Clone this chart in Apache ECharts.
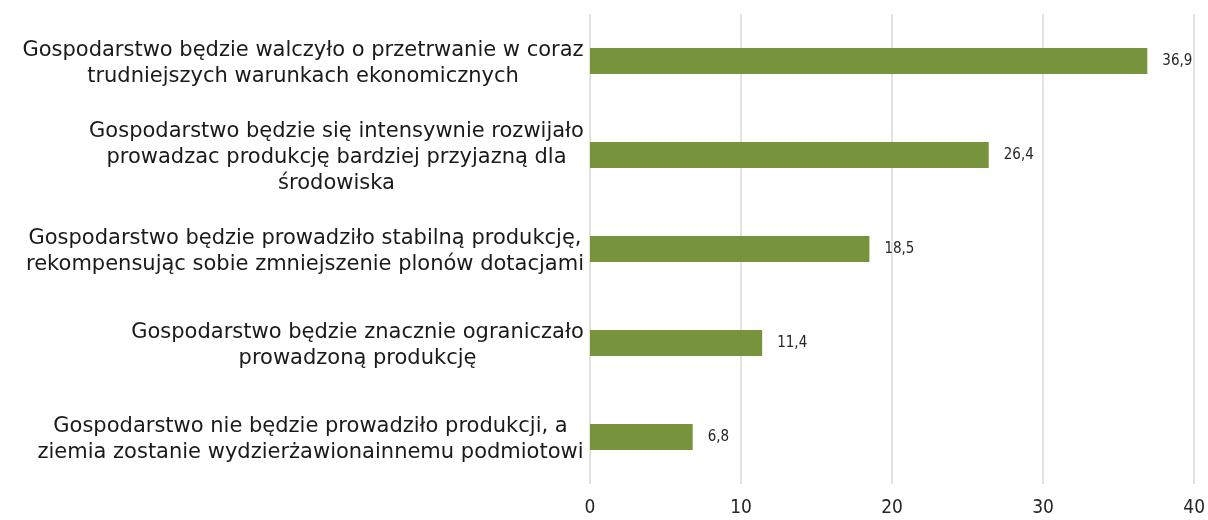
<!DOCTYPE html>
<html>
<head>
<meta charset="utf-8">
<script src="https://cdn.jsdelivr.net/npm/echarts@6/dist/echarts.min.js"></script>
<style>
  html, body { margin: 0; padding: 0; background: #ffffff; }
  #chart { width: 1208px; height: 520px; }
</style>
</head>
<body>
<div id="chart"></div>
<script>
// Answer categories (line breaks as they wrap in the label column)
const categories = [
  'Gospodarstwo będzie walczyło o przetrwanie w coraz\ntrudniejszych warunkach ekonomicznych',
  'Gospodarstwo będzie się intensywnie rozwijało\nprowadzac produkcję bardziej przyjazną dla\nśrodowiska',
  'Gospodarstwo będzie prowadziło stabilną produkcję,\nrekompensując sobie zmniejszenie plonów dotacjami',
  'Gospodarstwo będzie znacznie ograniczało\nprowadzoną produkcję',
  'Gospodarstwo nie będzie prowadziło produkcji, a\nziemia zostanie wydzierżawionainnemu podmiotowi'
];
// Share of answers, %
const values = [36.9, 26.4, 18.5, 11.4, 6.8];
// Value axis ticks
const tickLabels = ['0', '10', '20', '30', '40'];

const FONT = '"DejaVu Sans", sans-serif';
const NUM_FONT = '"DejaVu Sans Condensed", "DejaVu Sans", sans-serif';
const CAT_SIZE = 21;

// Measure every label block so its lines can be centred inside it
const ctx = document.createElement('canvas').getContext('2d');
ctx.font = CAT_SIZE + 'px ' + FONT;
const rich = {};
categories.forEach((c, i) => {
  const w = Math.max(...c.split('\n').map(l => ctx.measureText(l).width));
  rich['c' + i] = {
    width: Math.ceil(w), align: 'center',
    fontFamily: FONT, fontSize: CAT_SIZE, lineHeight: 26, color: '#1a1a1a'
  };
});

const chart = echarts.init(document.getElementById('chart'), null, { renderer: 'canvas' });
chart.setOption({
  animation: false,
  grid: { left: 590, right: 12, top: 14, bottom: 36, containLabel: false },
  xAxis: {
    type: 'value',
    min: 0, max: 40, interval: 10,
    axisLine: { show: false },
    axisTick: { show: false },
    splitLine: { show: true, lineStyle: { color: '#d9d9d9', width: 1.5 } },
    axisLabel: {
      margin: 15,
      fontFamily: NUM_FONT, fontSize: 19, color: '#262626',
      formatter: (v) => tickLabels[Math.round(v / 10)]
    }
  },
  yAxis: {
    type: 'category',
    inverse: true,
    data: categories,
    axisLine: { show: false },
    axisTick: { show: false },
    axisLabel: {
      margin: 6,
      align: 'right',
      padding: [6, 0, 0, 0],
      rich: rich,
      formatter: (v, idx) => v.split('\n').map(l => '{c' + idx + '|' + l + '}').join('\n')
    }
  },
  series: [{
    type: 'bar',
    data: values,
    barWidth: 26,
    itemStyle: { color: '#77933C' },
    label: {
      show: true,
      position: 'right',
      distance: 15,
      fontFamily: NUM_FONT, fontSize: 15, color: '#262626',
      formatter: (p) => String(p.value).replace('.', ',')
    }
  }]
});
</script>
</body>
</html>
